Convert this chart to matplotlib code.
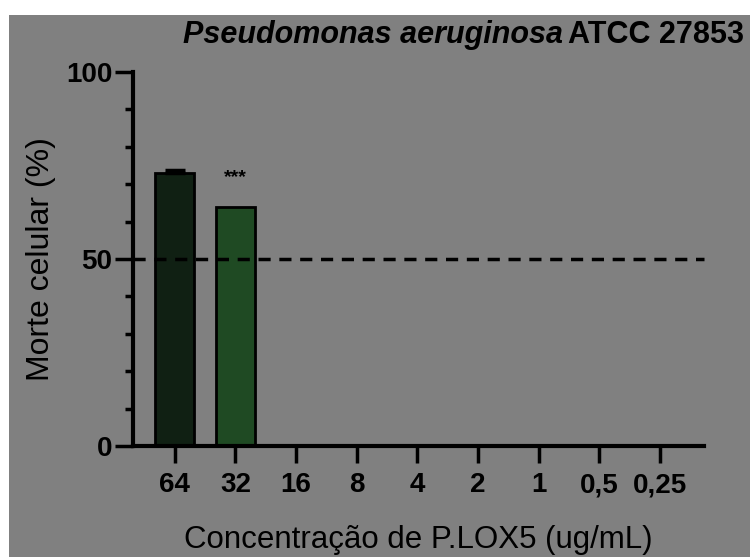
import matplotlib.pyplot as plt
from matplotlib.patches import Rectangle
import numpy as np

# concentrations (ug/mL) and cell death (%)
concentrations = ['64', '32', '16', '8', '4', '2', '1', '0,5', '0,25']
morte = [73.0, 64.0, 0, 0, 0, 0, 0, 0, 0]
erro = [0.7, 0.0, 0, 0, 0, 0, 0, 0, 0]
signif = ['', '***', '', '', '', '', '', '', '']
cores = ['#102013', '#1f4a23'] + ['#1f4a23'] * 7

plt.rcParams['font.family'] = ['Liberation Sans', 'DejaVu Sans']

fig = plt.figure(figsize=(7.5, 5.57), dpi=100, facecolor='white')
# gray panel (left and top white strip like the screenshot)
fig.patches.append(Rectangle((9 / 750, 0), 1, 1 - 15 / 557, transform=fig.transFigure,
                             facecolor='#808080', edgecolor='none', zorder=0))

ax = fig.add_axes([133 / 750, 1 - 446 / 557, (704 - 133) / 750, (446 - 72) / 557])
ax.set_facecolor('none')
ax.set_zorder(2)

x = np.arange(len(concentrations))
ax.bar(x, morte, width=0.64, color=cores, edgecolor='black', linewidth=2, zorder=2)
ax.errorbar(x[:1], morte[:1], yerr=[[0], erro[:1]], fmt='none', ecolor='black',
            elinewidth=2, capsize=7, capthick=2.5, zorder=3)

for xi, yi, s in zip(x, morte, signif):
    if s:
        ax.text(xi, yi + 10, s, ha='center', va='top', fontsize=14, fontweight='bold')

ax.axhline(50, color='black', linestyle=(0, (3.5, 2.5)), linewidth=2.5, zorder=4,
           clip_on=False)

ax.set_xlim(-0.69, 8.73)
ax.set_ylim(0, 100)
ax.set_xticks(x)
ax.set_xticklabels(concentrations, fontsize=20, fontweight='bold')
ax.set_yticks([0, 50, 100])
ax.set_yticks(np.arange(0, 101, 10), minor=True)
ax.set_yticklabels(['0', '50', '100'], fontsize=20, fontweight='bold')
ax.tick_params(axis='y', which='major', length=13, width=2.5, pad=2)
ax.tick_params(axis='y', which='minor', length=6, width=2.5)
ax.tick_params(axis='x', which='major', length=12, width=2.5, pad=7)

for side in ['top', 'right']:
    ax.spines[side].set_visible(False)
for side in ['left', 'bottom']:
    ax.spines[side].set_linewidth(3)

ax.set_ylabel('Morte celular (%)', fontsize=23, labelpad=7)
ax.set_xlabel('Concentração de P.LOX5 (ug/mL)', fontsize=22.5, labelpad=19)

fig.text(183 / 750, 1 - 43 / 557, 'Pseudomonas aeruginosa', fontsize=22,
         fontweight='bold', style='italic', ha='left', va='baseline')
fig.text(744 / 750, 1 - 43 / 557, 'ATCC 27853', fontsize=22,
         fontweight='bold', ha='right', va='baseline')

fig.savefig('out.png', dpi=100, facecolor=fig.get_facecolor())
